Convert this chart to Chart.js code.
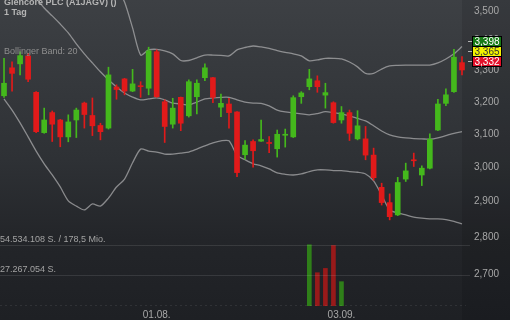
<!DOCTYPE html>
<html>
<head>
<meta charset="utf-8">
<script src="https://cdn.jsdelivr.net/npm/chart.js@4"></script>
<style>
  html, body { margin: 0; padding: 0; background: #26292d; }
  #wrap { width: 510px; height: 320px; }
</style>
</head>
<body>
<div id="wrap"><canvas id="grafica" width="510" height="320"></canvas></div>
<script>
// Tage (Handelstage)
const fechas = ['07.07.', '08.07.', '09.07.', '10.07.', '11.07.', '14.07.', '15.07.', '16.07.', '17.07.', '18.07.',
    '21.07.', '22.07.', '23.07.', '24.07.', '25.07.', '28.07.', '29.07.', '30.07.', '31.07.', '01.08.',
    '04.08.', '05.08.', '06.08.', '07.08.', '08.08.', '11.08.', '12.08.', '13.08.', '14.08.', '15.08.',
    '18.08.', '19.08.', '20.08.', '21.08.', '22.08.', '25.08.', '26.08.', '27.08.', '28.08.', '29.08.',
    '01.09.', '02.09.', '03.09.', '04.09.', '05.09.', '08.09.', '09.09.', '10.09.', '11.09.', '12.09.',
    '15.09.', '16.09.', '17.09.', '18.09.', '19.09.', '22.09.', '23.09.', '24.09.'];
const fechasVisibles = ['01.08.', '03.09.'];

const aperturas = [3.219, 3.309, 3.322, 3.348, 3.230, 3.104, 3.166, 3.143, 3.091, 3.143,
    3.196, 3.157, 3.126, 3.118, 3.247, 3.273, 3.234, 3.251, 3.243, 3.362,
    3.200, 3.130, 3.214, 3.156, 3.216, 3.277, 3.277, 3.183, 3.193, 3.168,
    3.037, 3.077, 3.078, 3.074, 3.055, 3.096, 3.091, 3.216, 3.248, 3.267,
    3.221, 3.197, 3.143, 3.166, 3.085, 3.085, 3.036, 2.941, 2.897, 2.862,
    2.965, 3.022, 2.977, 2.997, 3.112, 3.195, 3.232, 3.326];
const maximos = [3.340, 3.329, 3.362, 3.357, 3.232, 3.180, 3.171, 3.145, 3.159, 3.180,
    3.199, 3.212, 3.133, 3.311, 3.254, 3.275, 3.304, 3.264, 3.377, 3.368,
    3.206, 3.211, 3.215, 3.270, 3.270, 3.322, 3.278, 3.224, 3.211, 3.169,
    3.080, 3.082, 3.143, 3.092, 3.112, 3.115, 3.219, 3.232, 3.304, 3.283,
    3.259, 3.200, 3.185, 3.174, 3.172, 3.123, 3.057, 2.953, 2.922, 2.970,
    3.012, 3.042, 3.004, 3.100, 3.208, 3.241, 3.370, 3.346];
const minimos = [3.214, 3.234, 3.286, 3.264, 3.104, 3.102, 3.077, 3.061, 3.076, 3.089,
    3.118, 3.095, 3.082, 3.115, 3.208, 3.222, 3.232, 3.214, 3.222, 3.214,
    3.074, 3.118, 3.110, 3.152, 3.162, 3.267, 3.197, 3.153, 3.118, 2.972,
    3.024, 3.000, 3.077, 3.043, 3.030, 3.060, 3.089, 3.195, 3.238, 3.230,
    3.180, 3.133, 3.133, 3.080, 3.082, 3.022, 2.962, 2.890, 2.848, 2.860,
    2.958, 3.002, 2.946, 2.995, 3.110, 3.188, 3.230, 3.286];
const cierres = [3.259, 3.291, 3.349, 3.272, 3.107, 3.143, 3.130, 3.091, 3.137, 3.174,
    3.160, 3.125, 3.107, 3.286, 3.239, 3.234, 3.257, 3.248, 3.365, 3.216,
    3.123, 3.180, 3.133, 3.264, 3.259, 3.309, 3.214, 3.195, 3.166, 2.984,
    3.066, 3.049, 3.083, 3.071, 3.099, 3.099, 3.213, 3.228, 3.273, 3.248,
    3.229, 3.135, 3.166, 3.102, 3.125, 3.036, 2.969, 2.897, 2.857, 2.955,
    2.989, 3.019, 2.997, 3.084, 3.193, 3.222, 3.344, 3.302];

// Bollinger Band: 20
const bandaSuperior = [4.222, 4.185, 4.155, 4.139, 4.123, 4.094, 4.074, 4.058, 4.042, 3.975,
    3.913, 3.821, 3.761, 3.674, 3.584, 3.531, 3.442, 3.351, 3.368, 3.370,
    3.365, 3.355, 3.333, 3.333, 3.342, 3.351, 3.351, 3.350, 3.348, 3.368,
    3.376, 3.381, 3.378, 3.373, 3.366, 3.360, 3.355, 3.348, 3.332, 3.335,
    3.340, 3.340, 3.338, 3.328, 3.312, 3.291, 3.291, 3.305, 3.315, 3.317,
    3.318, 3.318, 3.318, 3.318, 3.325, 3.338, 3.355, 3.379];
const bandaMedia = [3.681, 3.645, 3.609, 3.577, 3.545, 3.510, 3.483, 3.455, 3.425, 3.388,
    3.355, 3.325, 3.296, 3.270, 3.247, 3.228, 3.215, 3.206, 3.209, 3.212,
    3.206, 3.196, 3.193, 3.190, 3.199, 3.209, 3.212, 3.214, 3.214, 3.206,
    3.199, 3.196, 3.195, 3.187, 3.174, 3.168, 3.165, 3.162, 3.159, 3.163,
    3.169, 3.166, 3.162, 3.156, 3.148, 3.140, 3.125, 3.109, 3.097, 3.091,
    3.088, 3.086, 3.085, 3.084, 3.088, 3.095, 3.102, 3.107];
const bandaInferior = [3.209, 3.174, 3.134, 3.091, 3.048, 3.010, 2.977, 2.942, 2.902, 2.887,
    2.876, 2.893, 2.887, 2.910, 2.942, 2.965, 3.013, 3.054, 3.048, 3.045,
    3.039, 3.039, 3.042, 3.045, 3.054, 3.064, 3.073, 3.079, 3.079, 3.036,
    3.022, 3.010, 3.004, 2.995, 2.983, 2.979, 2.977, 2.980, 2.987, 2.992,
    2.992, 2.990, 2.990, 2.987, 2.985, 2.980, 2.960, 2.919, 2.876, 2.868,
    2.862, 2.856, 2.853, 2.851, 2.851, 2.849, 2.844, 2.837];

// Umsatz (Stück), nur fuer wenige Tage vorhanden
const volumenes = [null, null, null, null, null, null, null, null, null, null,
    null, null, null, null, null, null, null, null, null, null,
    null, null, null, null, null, null, null, null, null, null,
    null, null, null, null, null, null, null, null, 54534108, 29660000,
    33480000, 53900000, 21670000, null, null, null, null, null, null, null,
    null, null, null, null, null, null, null, null];
const lineasVolumen = [27267054, 54534108];
const textosVolumen = ['27.267.054 S.', '54.534.108 S. / 178,5 Mio.'];

const ticksPrecio = [2.7, 2.8, 2.9, 3.0, 3.1, 3.2, 3.3, 3.4, 3.5];
const marcasValor = [3.398, 3.365, 3.332];
const marcasColor = ['#177a17', '#f2f200', '#e3102b'];
const marcasTexto = ['#ffffff', '#333333', '#ffffff'];

const VERDE = '#44b81c', ROJO = '#e11a1a';
const VERDE_VOL = '#2f7f19', ROJO_VOL = '#981a1a';

function formatoPrecio(v) {
    return v.toFixed(3).replace('.', ',');
}

const coloresVela = cierres.map((c, i) => c >= aperturas[i] ? VERDE : ROJO);
const coloresVol = cierres.map((c, i) => i > 0 && c < cierres[i - 1] ? ROJO_VOL : VERDE_VOL);

const fondo = {
    id: 'fondo',
    beforeDraw(chart) {
        const ctx = chart.ctx;
        const g = ctx.createLinearGradient(0, 0, 0, chart.height);
        g.addColorStop(0, '#3d4044');
        g.addColorStop(0.5, '#2e3135');
        g.addColorStop(0.75, '#232529');
        g.addColorStop(1, '#1e2024');
        ctx.save();
        ctx.fillStyle = g;
        ctx.fillRect(0, 0, chart.width, chart.height);
        ctx.fillStyle = 'rgba(0,0,0,0.10)';
        ctx.fillRect(chart.chartArea.right - 4, 0, chart.width, chart.height);
        ctx.restore();
    }
};

const textos = {
    id: 'textos',
    afterDraw(chart) {
        const ctx = chart.ctx;
        const yv = chart.scales.yv;
        const y = chart.scales.y;
        const area = chart.chartArea;
        ctx.save();
        // Linien Umsatz
        ctx.strokeStyle = 'rgba(255,255,255,0.10)';
        ctx.lineWidth = 1;
        lineasVolumen.forEach(v => {
            const py = Math.round(yv.getPixelForValue(v)) + 0.5;
            ctx.beginPath();
            ctx.moveTo(0, py);
            ctx.lineTo(area.right + 4, py);
            ctx.stroke();
        });
        ctx.setLineDash([2, 3]);
        ctx.strokeStyle = 'rgba(255,255,255,0.08)';
        ctx.beginPath();
        ctx.moveTo(0, area.bottom - 0.5);
        ctx.lineTo(area.right, area.bottom - 0.5);
        ctx.stroke();
        ctx.setLineDash([]);

        ctx.font = '9px "Liberation Sans", Arial, sans-serif';
        ctx.fillStyle = '#a3a3a3';
        ctx.textBaseline = 'bottom';
        ctx.textAlign = 'left';
        lineasVolumen.forEach((v, i) => {
            const py = yv.getPixelForValue(v);
            ctx.fillText(textosVolumen[i], 0, py - 1);
        });

        // Titel
        ctx.fillStyle = '#b5b5b5';
        ctx.font = 'bold 9px "Liberation Sans", Arial, sans-serif';
        ctx.textBaseline = 'middle';
        ctx.fillText('Glencore PLC (A1JAGV) ()', 4, 3);
        ctx.fillText('1 Tag', 4, 13);
        ctx.font = '9px "Liberation Sans", Arial, sans-serif';
        ctx.fillStyle = '#8e8e8e';
        ctx.fillText('Bollinger Band: 20', 4, 52);

        // Kursmarken
        ctx.font = '10px "Liberation Sans", Arial, sans-serif';
        ctx.textAlign = 'center';
        marcasValor.forEach((v, i) => {
            const py = Math.round(y.getPixelForValue(v));
            ctx.strokeStyle = '#b0b0b0';
            ctx.beginPath();
            ctx.moveTo(area.right + 2, py + 0.5);
            ctx.lineTo(area.right + 6, py + 0.5);
            ctx.stroke();
            ctx.fillStyle = marcasColor[i];
            ctx.fillRect(area.right + 6, py - 5, 30, 11);
            ctx.strokeStyle = '#000000';
            ctx.strokeRect(area.right + 6.5, py - 4.5, 29, 10);
            ctx.fillStyle = marcasTexto[i];
            ctx.fillText(formatoPrecio(v), area.right + 21, py + 1);
        });
        ctx.restore();
    }
};

const ctx = document.getElementById('grafica').getContext('2d');
window.myChart = new Chart(ctx, {
    data: {
        labels: fechas,
        datasets: [
            {
                type: 'line',
                label: 'oben',
                data: bandaSuperior,
                borderColor: 'rgba(178,178,180,0.7)',
                borderWidth: 1.3,
                pointRadius: 0,
                tension: 0.25,
                order: 5
            },
            {
                type: 'line',
                label: 'mitte',
                data: bandaMedia,
                borderColor: 'rgba(178,178,180,0.7)',
                borderWidth: 1.3,
                pointRadius: 0,
                tension: 0.25,
                order: 5
            },
            {
                type: 'line',
                label: 'unten',
                data: bandaInferior,
                borderColor: 'rgba(178,178,180,0.7)',
                borderWidth: 1.3,
                pointRadius: 0,
                tension: 0.25,
                order: 5
            },
            {
                type: 'bar',
                label: 'docht',
                data: minimos.map((l, i) => [l, maximos[i]]),
                backgroundColor: coloresVela,
                barThickness: 1,
                grouped: false,
                order: 2
            },
            {
                type: 'bar',
                label: 'kerze',
                data: aperturas.map((o, i) => [o, cierres[i]]),
                backgroundColor: coloresVela,
                barThickness: 5,
                minBarLength: 1,
                grouped: false,
                order: 1
            },
            {
                type: 'bar',
                label: 'umsatz',
                data: volumenes,
                yAxisID: 'yv',
                backgroundColor: coloresVol,
                barThickness: 4,
                grouped: false,
                order: 3
            }
        ]
    },
    options: {
        responsive: false,
        animation: false,
        plugins: {
            legend: { display: false },
            tooltip: { enabled: false }
        },
        layout: { padding: 0 },
        scales: {
            x: {
                type: 'category',
                offset: true,
                grid: { display: false, drawTicks: false },
                border: { display: false },
                ticks: {
                    autoSkip: false,
                    maxRotation: 0,
                    padding: 3,
                    color: '#a8a8a8',
                    font: { size: 10, family: '"Liberation Sans", Arial, sans-serif' },
                    callback: function (v, i) {
                        return fechasVisibles.includes(fechas[i]) ? fechas[i] : '';
                    }
                },
                afterFit: s => { s.height = 14; s.paddingLeft = 0; s.paddingRight = 0; }
            },
            y: {
                type: 'logarithmic',
                position: 'right',
                min: 2.616,
                max: 3.538,
                grid: { display: false, drawTicks: false },
                border: { display: false },
                ticks: {
                    padding: 8,
                    color: '#a8a8a8',
                    font: { size: 10, family: '"Liberation Sans", Arial, sans-serif' },
                    callback: v => formatoPrecio(v)
                },
                afterBuildTicks: s => { s.ticks = ticksPrecio.map(v => ({ value: v })); },
                afterFit: s => { s.width = 44; s.paddingTop = 0; s.paddingBottom = 0; }
            },
            yv: {
                type: 'linear',
                display: false,
                min: 0,
                max: 272670540
            }
        }
    },
    plugins: [fondo, textos]
});
</script>
</body>
</html>
